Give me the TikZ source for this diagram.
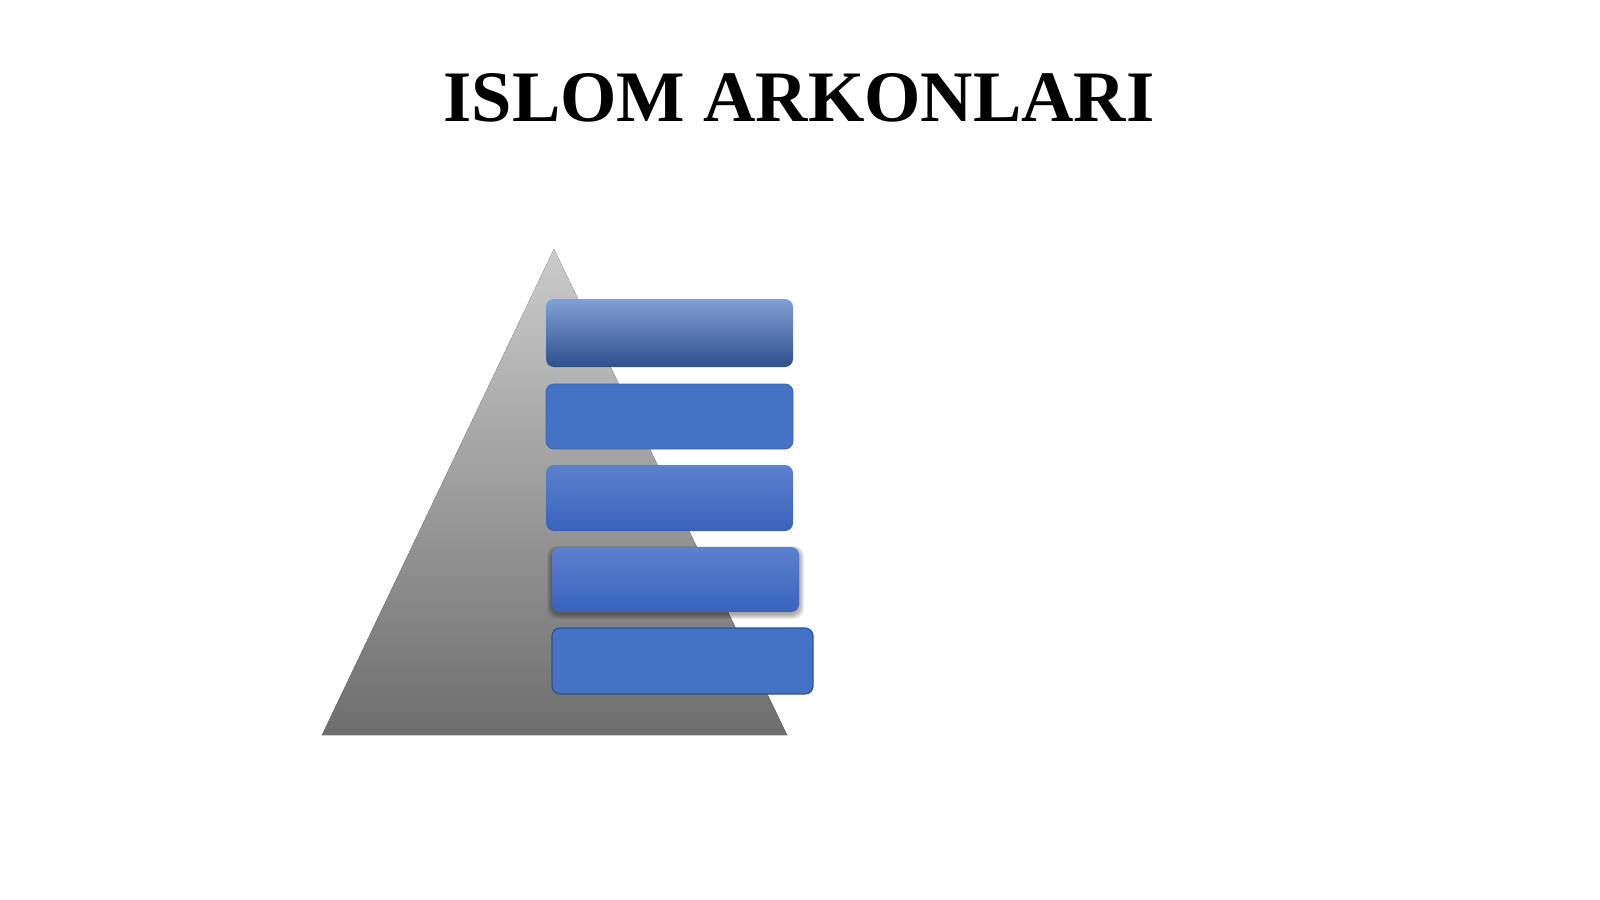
\documentclass[tikz,border=0pt]{standalone}
\usepackage{fontspec}
\setmainfont{Liberation Serif}
\definecolor{boxblue}{HTML}{4472C4}
\definecolor{boxedge}{HTML}{3A64B0}
\definecolor{darkedge}{HTML}{2F528F}
\definecolor{triTop}{HTML}{CBCBCB}
\definecolor{triBot}{HTML}{6E6E6E}
\definecolor{oneTop}{HTML}{82A0D8}
\definecolor{oneMid}{HTML}{4A72C4}
\definecolor{oneBot}{HTML}{2E4F8E}
\definecolor{midTop}{HTML}{5C81CD}
\definecolor{midBot}{HTML}{3863BE}
\tikzset{
  barbox/.style={rectangle, rounded corners=4pt, inner sep=0pt, minimum width=123.5pt},
  flatbar/.style={barbox, fill=boxblue, draw=boxedge, line width=0.4pt},
  gradbar/.style={barbox, top color=midTop, bottom color=midBot},
  softshade/.style={black, opacity=0.07},
  titletext/.style={font=\bfseries\fontsize{36.25pt}{40pt}\selectfont, inner sep=0pt, anchor=base}
}
\begin{document}
\begin{tikzpicture}[x=0.5pt,y=-0.5pt]
\useasboundingbox[fill=white] (0,0) rectangle (1600,899);
% title
\node[titletext] (title) at (799,121) {ISLOM ARKONLARI};
% pyramid
\fill[top color=triTop, bottom color=triBot] (554,249) -- (787,735) -- (322,735) -- cycle;
\coordinate (apex) at (554,249);
% bars
\node[barbox, minimum height=34pt, top color=oneTop, middle color=oneMid, bottom color=oneBot] (b1) at (669.5,333) {};
\node[flatbar, minimum height=32.5pt] (b2) at (669.5,416.5) {};
\node[gradbar, minimum height=33pt] (b3) at (669.5,498) {};
% soft shadow of bar 4
\foreach \d in {1,2,3,4,5} {
  \fill[softshade, rounded corners=5pt] (552-\d,549-\d*0.6) rectangle (799+\d,614+\d);
}
\node[gradbar, minimum height=32.5pt] (b4) at (675.5,579.5) {};
\node[barbox, minimum width=130.5pt, minimum height=33pt, fill=boxblue, draw=darkedge, line width=0.6pt] (b5) at (682.5,661) {};
\end{tikzpicture}
\end{document}
